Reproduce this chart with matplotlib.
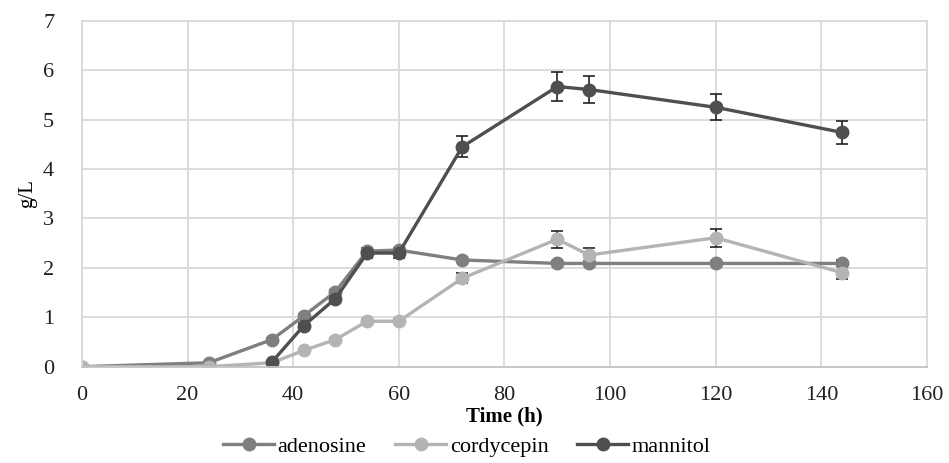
import numpy as np
import matplotlib
matplotlib.use("Agg")
import matplotlib.pyplot as plt
from matplotlib.lines import Line2D

plt.rcParams['font.family'] = ['Liberation Serif', 'DejaVu Serif']

# sampling times (h) and concentrations (g/L)
time_all = [0, 24, 36, 42, 48, 54, 60, 72, 90, 96, 120, 144]
time_mannitol = [36, 42, 48, 54, 60, 72, 90, 96, 120, 144]

adenosine = [0.0, 0.08, 0.55, 1.03, 1.52, 2.34, 2.36, 2.16, 2.09, 2.09, 2.09, 2.09]
adenosine_err = [0.0, 0.02, 0.03, 0.04, 0.04, 0.05, 0.05, 0.04, 0.04, 0.04, 0.04, 0.06]

cordycepin = [0.0, 0.0, 0.08, 0.33, 0.55, 0.92, 0.92, 1.79, 2.58, 2.26, 2.61, 1.90]
cordycepin_err = [0.0, 0.0, 0.02, 0.03, 0.03, 0.05, 0.04, 0.10, 0.17, 0.15, 0.18, 0.13]

mannitol = [0.10, 0.83, 1.38, 2.30, 2.30, 4.45, 5.67, 5.61, 5.25, 4.74]
mannitol_err = [0.02, 0.05, 0.06, 0.10, 0.10, 0.21, 0.29, 0.28, 0.26, 0.24]

series_names = ['adenosine', 'cordycepin', 'mannitol']
colors = ['#7f7f7f', '#b4b4b4', '#4f4f4f']

fig = plt.figure(figsize=(9.49, 4.63), dpi=100)
ax = fig.add_axes([0.0864, 0.208, 0.8904, 0.747])

kw = dict(lw=2.4, marker='o', ms=9, capsize=4, elinewidth=1.2, capthick=1.2, ecolor='#222222')
ax.errorbar(time_all, adenosine, yerr=adenosine_err, color=colors[0], **kw)
ax.errorbar(time_all, cordycepin, yerr=cordycepin_err, color=colors[1], **kw)
ax.errorbar(time_mannitol, mannitol, yerr=mannitol_err, color=colors[2], **kw)

ax.set_xlim(0, 160)
ax.set_ylim(0, 7)
ax.set_xticks(np.arange(0, 161, 20))
ax.set_yticks(np.arange(0, 8, 1))
ax.grid(True, color='#d9d9d9', lw=1.3)
ax.set_axisbelow(True)
for s in ax.spines.values():
    s.set_color('#d9d9d9')
    s.set_linewidth(1.3)
ax.spines['bottom'].set_color('#c4c4c4')
ax.tick_params(length=0, labelsize=16, colors='#222222')
ax.tick_params(axis='x', pad=14)
ax.tick_params(axis='y', pad=20)

ax.set_xlabel('Time (h)', fontsize=15, fontweight='bold', labelpad=1)
ax.set_ylabel('g/L', fontsize=15, labelpad=4)

handles = [Line2D([], [], color=c, lw=2.4, marker='o', ms=9) for c in colors]
fig.legend(handles, series_names, loc='lower center', bbox_to_anchor=(0.492, -0.03), ncol=3,
           frameon=False, fontsize=16, handlelength=2.3, columnspacing=1.3, handletextpad=0.15)

fig.savefig('out.png', dpi=100)
